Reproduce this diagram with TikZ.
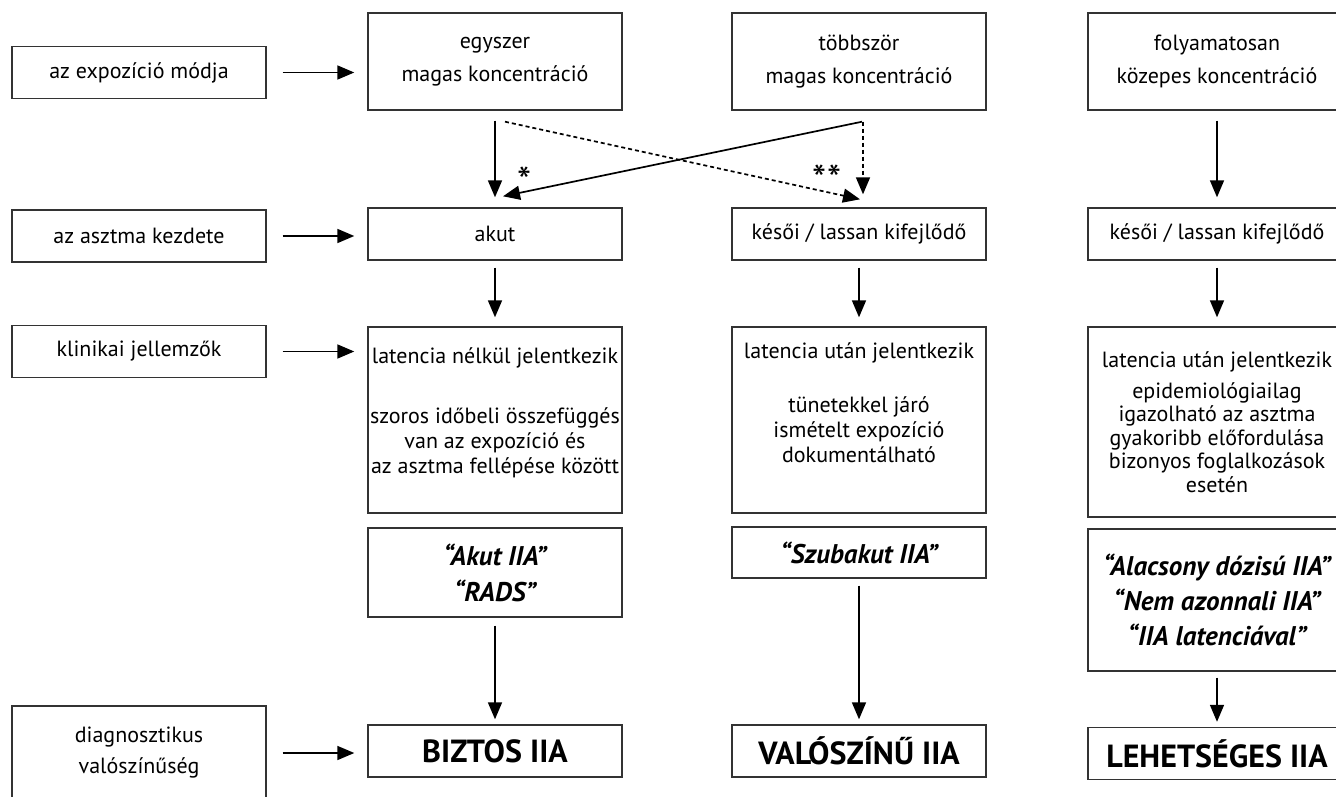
\documentclass[tikz,border=0pt]{standalone}
\usepackage{fontspec}
\setmainfont{PT Sans}
\usetikzlibrary{arrows.meta}

\begin{document}
\begin{tikzpicture}[x=1pt,y=-1pt,->,>={Triangle[width=14pt,length=17pt]},line width=1.7pt,
                    box/.style={draw=black!80,line width=1.4pt,align=center,inner sep=0pt,
                                minimum width=254pt,font=\fontsize{22}{25}\selectfont},
                    side node/.style={box,minimum height=52pt},
                    main node/.style={box,minimum height=52pt},
                    name node/.style={box,font=\bfseries\itshape\fontsize{27}{36}\selectfont},
                    end node/.style={box,minimum height=52pt,font=\bfseries\fontsize{32}{36}\selectfont},
                    star node/.style={font=\fontsize{40}{40}\selectfont,inner sep=0pt},
                    short dash/.style={dash pattern=on 4pt off 3pt}]

  \useasboundingbox (0,0) rectangle (1336,796);

  % left column
  \node[side node] (l1) at (139,72.5) {az expozíció módja};
  \node[side node] (l2) at (139,236) {az asztma kezdete};
  \node[side node] (l3) at (139,351.5) {klinikai jellemzők};
  \node[side node,minimum height=94pt] (l4) at (139,753) {diagnosztikus\\[6pt]valószínűség};

  % egyszer
  \node[box,minimum height=97pt] (e1) at (495,61.5) {egyszer\\[8pt]magas koncentráció};
  \node[main node] (e2) [below of=e1,node distance=172.5pt] {akut};
  \node[box,minimum height=186pt] (e3) [below of=e2,node distance=186pt]
    {latencia nélkül jelentkezik\\[35pt]szoros időbeli összefüggés\\van az expozíció és\\az asztma fellépése között\\[-6pt]\mbox{}};
  \node[name node,minimum height=89pt] (e4) [below of=e3,node distance=152.5pt] {“Akut IIA”\\“RADS”};
  \node[end node] (e5) [below of=e4,node distance=178.5pt] {BIZTOS IIA};

  % többször
  \node[box,minimum height=97pt] (t1) at (859,61.5) {többször\\[8pt]magas koncentráció};
  \node[main node] (t2) [below of=t1,node distance=172.5pt] {késői / lassan kifejlődő};
  \node[box,minimum height=186pt] (t3) [below of=t2,node distance=186pt]
    {latencia után jelentkezik\\[29pt]tünetekkel járó\\ismételt expozíció\\dokumentálható\\[9pt]\mbox{}};
  \node[name node,minimum height=51pt] (t4) [below of=t3,node distance=132.5pt] {“Szubakut IIA”};
  \node[end node] (t5) [below of=t4,node distance=198.5pt] {VALÓSZÍNŰ IIA};

  % folyamatosan
  \node[box,minimum height=97pt,minimum width=258pt] (f1) at (1217,61.5) {folyamatosan\\[8pt]közepes koncentráció};
  \node[main node,minimum width=258pt] (f2) [below of=f1,node distance=172.5pt] {késői / lassan kifejlődő};
  \node[box,minimum height=190pt,minimum width=258pt,font=\fontsize{22}{23.5}\selectfont] (f3) [below of=f2,node distance=188pt]
    {latencia után jelentkezik\\[7pt]epidemiológiailag\\igazolható az asztma\\gyakoribb előfordulása\\bizonyos foglalkozások\\esetén};
  \node[name node,minimum height=142pt,minimum width=258pt,font=\bfseries\itshape\fontsize{27}{35}\selectfont] (f4) [below of=f3,node distance=178pt]
    {“Alacsony dózisú IIA”\\“Nem azonnali IIA”\\“IIA latenciával”};
  \node[end node,minimum width=258pt] (f5) [below of=f4,node distance=153.5pt] {LEHETSÉGES IIA};

  \node[star node] (s1) at (525,181) {*};
  \node[star node] (s2) at (827,179) {**};

  \path[shorten <=16pt,shorten >=13pt]
    (l1) edge (l1 -| e1.west)
    (l2) edge (l2 -| e2.west)
    (l3) edge (l3 -| e3.west)
    (l4) edge (l4 -| e5.west);

  \path
    (e1) edge [shorten <=10pt,shorten >=10pt] (e2)
    (f1) edge [shorten <=10pt,shorten >=10pt] (f2)
    ([shift={(3,11)}]t1.south) edge ([shift={(8,-11)}]e2.north)
    ([shift={(10,11)}]e1.south) edge [short dash] ([shift={(1,-8)}]t2.north)
    ([shift={(4,11)}]t1.south) edge [short dash] ([shift={(4,-13)}]t2.north)

    (e2) edge [shorten <=7pt,shorten >=9pt] (e3)
    (t2) edge [shorten <=7pt,shorten >=9pt] (t3)
    (f2) edge [shorten <=7pt,shorten >=9pt] (f3)

    (e4) edge [shorten <=8pt,shorten >=5pt] (e5)
    (t4) edge [shorten <=7pt,shorten >=5pt] (t5)
    (f4) edge [shorten <=6pt,shorten >=5pt] (f5)
;
\end{tikzpicture}
\end{document}
